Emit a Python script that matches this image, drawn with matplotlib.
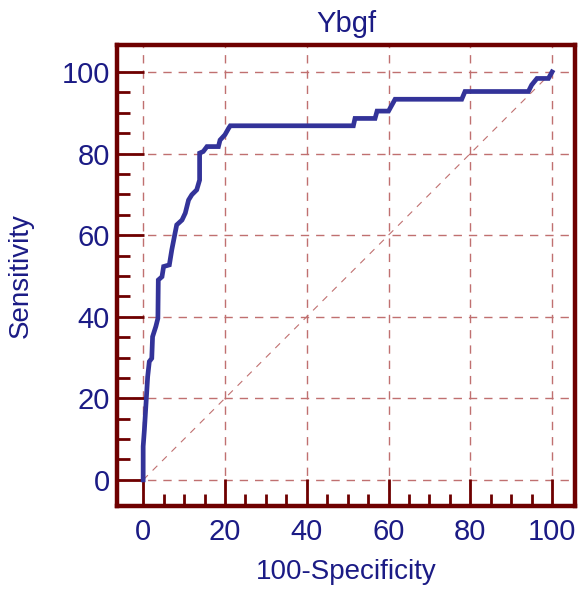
import matplotlib
matplotlib.use("Agg")
import matplotlib.pyplot as plt
from matplotlib.ticker import FixedLocator

# ROC curve vertices (100-Specificity, Sensitivity)
fpr = [0.0, 0.0, 0.3, 0.7, 1.1, 1.5, 2.1, 2.3, 3.1, 3.6, 3.7, 4.6, 5.0, 6.4, 7.0,
       7.8, 8.2, 9.5, 10.3, 11.1, 11.9, 13.1, 13.8, 13.8, 14.7, 15.6, 18.4, 18.8,
       20.0, 20.9, 21.3, 51.4, 51.8, 56.7, 57.2, 60.0, 61.6, 77.9, 78.7, 94.2,
       95.0, 96.3, 99.1, 100.0]
tpr = [0.0, 8.2, 12.3, 18.8, 25.3, 29.0, 29.8, 35.1, 37.6, 39.6, 49.0, 49.8, 52.3, 52.7, 56.4,
       60.5, 62.5, 63.7, 65.4, 68.6, 69.9, 71.1, 73.5, 80.1, 80.5, 81.7, 81.7, 83.3,
       84.6, 86.2, 86.8, 86.8, 88.6, 88.6, 90.4, 90.4, 93.3, 93.3, 95.2, 95.2,
       96.8, 98.4, 98.4, 100.0]

title = "Ybgf"
xlabel = "100-Specificity"
ylabel = "Sensitivity"
ticks = [0, 20, 40, 60, 80, 100]
minor_ticks = [5, 10, 15, 25, 30, 35, 45, 50, 55, 65, 70, 75, 85, 90, 95]

frame_col = "#6e0000"
text_col = "#1b1b85"
curve_col = "#333399"
grid_col = "#c07070"

plt.rcParams["font.family"] = ["Liberation Sans", "DejaVu Sans"]

fig = plt.figure(figsize=(5.79, 5.95), dpi=100)
ax = fig.add_axes([117 / 579, 1 - 506 / 595, (575 - 117) / 579, (506 - 45) / 595])

ax.set_xlim(-6.4, 105.6)
ax.set_ylim(-6.4, 106.6)

# grid and diagonal
for t in ticks:
    ax.plot([t, t], [ax.get_ylim()[0], ax.get_ylim()[1]], color=grid_col, lw=1.0,
            dashes=(6, 5), zorder=1)
    ax.plot([ax.get_xlim()[0], ax.get_xlim()[1]], [t, t], color=grid_col, lw=1.0,
            dashes=(6, 5), zorder=1)
ax.plot([0, 100], [0, 100], color=grid_col, lw=0.8, dashes=(6, 6), zorder=1)

# the curve
ax.plot(fpr, tpr, color=curve_col, lw=3.4, solid_joinstyle="miter", zorder=3)

ax.xaxis.set_major_locator(FixedLocator(ticks))
ax.xaxis.set_minor_locator(FixedLocator(minor_ticks))
ax.yaxis.set_major_locator(FixedLocator(ticks))
ax.yaxis.set_minor_locator(FixedLocator(minor_ticks))

ax.tick_params(which="major", direction="in", length=19.5, width=2.0, color=frame_col,
               labelsize=21, labelcolor=text_col)
ax.tick_params(which="minor", direction="in", length=9, width=2.0, color=frame_col)
ax.tick_params(axis="y", which="major", pad=5)
ax.tick_params(axis="x", which="major", pad=9)
ax.tick_params(top=False, right=False, which="both")

for sp in ax.spines.values():
    sp.set_color(frame_col)
    sp.set_linewidth(3.2)

ax.set_title(title, color=text_col, fontsize=21, pad=9)
ax.set_xlabel(xlabel, color=text_col, fontsize=20, labelpad=9)
ax.set_ylabel(ylabel, color=text_col, fontsize=20, labelpad=20)

fig.savefig("out.png", dpi=100)
